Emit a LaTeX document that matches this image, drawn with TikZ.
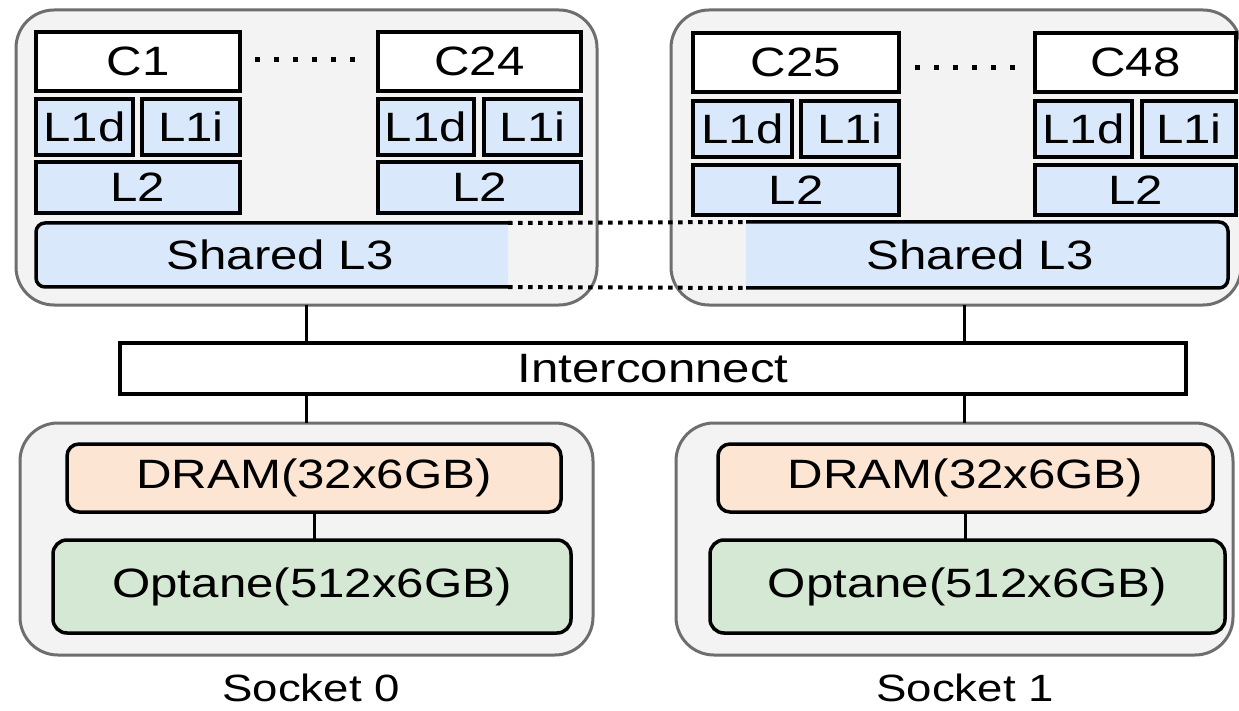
\documentclass[tikz,border=0pt]{standalone}
\usepackage{fontspec}
\setmainfont{Liberation Sans}
\usetikzlibrary{calc}
\definecolor{outerfill}{HTML}{F3F3F3}
\definecolor{outerdraw}{HTML}{6E6E6E}
\definecolor{cachefill}{HTML}{DAE8FC}
\definecolor{dramfill}{HTML}{FCE5D2}
\definecolor{optfill}{HTML}{D5E8D4}
\newcommand\wt[1]{\scalebox{1.2}[1]{#1}}
\begin{document}
\begin{tikzpicture}[x=1pt,y=-1pt,
  every node/.style={inner sep=0pt, outer sep=0pt, font=\fontsize{41}{46}\selectfont},
  socketbox/.style={draw=outerdraw, fill=outerfill, line width=3pt, rounded corners=38pt},
  corebox/.style={draw=black, fill=white, line width=3.5pt},
  cachebox/.style={draw=black, fill=cachefill, line width=3.5pt},
  drambox/.style={draw=black, fill=dramfill, line width=3.5pt, rounded corners=12pt},
  optbox/.style={draw=black, fill=optfill, line width=3.5pt, rounded corners=14pt},
  icbox/.style={draw=black, fill=white, line width=3.5pt},
  link/.style={draw=black, line width=3pt},
  dotline/.style={draw=black, line width=4pt, dash pattern=on 4.5pt off 5.5pt},
  ellip/.style={draw=black, line width=5pt, dash pattern=on 5pt off 14pt},
  socklabel/.style={font=\fontsize{38}{44}\selectfont}
]
\clip (0,0) rectangle (1239,711);
\fill[white] (0,0) rectangle (1239,711);

% socket containers (top)
\node[socketbox, minimum width=581pt, minimum height=295pt] (topL) at (306.5,157.5) {};
\node[socketbox, minimum width=570pt, minimum height=295pt] (topR) at (956,157.5) {};

% socket 0 cores
\node[corebox, minimum width=204pt, minimum height=59pt] (c1) at (138,61.5) {\wt{C1}};
\node[corebox, minimum width=203pt, minimum height=59pt] (c24) at (479.5,61.5) {\wt{C24}};
\node[cachebox, minimum width=97pt, minimum height=56pt] (l1da) at (84.5,127) {\wt{L1d}};
\node[cachebox, minimum width=98pt, minimum height=56pt] (l1ia) at (191,127) {\wt{L1i}};
\node[cachebox, minimum width=96pt, minimum height=56pt] (l1db) at (426,127) {\wt{L1d}};
\node[cachebox, minimum width=97pt, minimum height=56pt] (l1ib) at (532.5,127) {\wt{L1i}};
\node[cachebox, minimum width=204pt, minimum height=51pt] (l2a) at (138,187.5) {\wt{L2}};
\node[cachebox, minimum width=203pt, minimum height=51pt] (l2b) at (479.5,187.5) {\wt{L2}};
\draw[ellip] (255,60) -- (355,60);

% socket 1 cores
\node[corebox, minimum width=206pt, minimum height=59pt] (c25) at (796,62.5) {\wt{C25}};
\node[corebox, minimum width=201pt, minimum height=59pt] (c48) at (1135.5,62.5) {\wt{C48}};
\node[cachebox, minimum width=99pt, minimum height=56pt] (l1dc) at (742.5,129) {\wt{L1d}};
\node[cachebox, minimum width=98pt, minimum height=56pt] (l1ic) at (850,129) {\wt{L1i}};
\node[cachebox, minimum width=97pt, minimum height=56pt] (l1dd) at (1083.5,129) {\wt{L1d}};
\node[cachebox, minimum width=94pt, minimum height=56pt] (l1id) at (1189,129) {\wt{L1i}};
\node[cachebox, minimum width=206pt, minimum height=50pt] (l2c) at (796,190) {\wt{L2}};
\node[cachebox, minimum width=201pt, minimum height=50pt] (l2d) at (1135.5,190) {\wt{L2}};
\draw[ellip] (915,68) -- (1015,68);

% shared L3 left
\node[fill=cachefill, rounded corners=9pt, minimum width=472pt, minimum height=64pt] (l3a) at (272,255) {};
\fill[cachefill] (l3a.north) rectangle (l3a.south east);
\draw[line width=3.5pt, rounded corners=9pt] (l3a.north east) -- (l3a.north west) -- (l3a.south west) -- (l3a.south east);
\node (l3atext) at (280,255) {\wt{Shared L3}};

% shared L3 right
\node[fill=cachefill, rounded corners=9pt, minimum width=482pt, minimum height=66pt] (l3b) at (987,255) {};
\fill[cachefill] (l3b.north west) rectangle (l3b.south);
\draw[line width=3.5pt, rounded corners=9pt] (l3b.north west) -- (l3b.north east) -- (l3b.south east) -- (l3b.south west);
\node (l3btext) at (980,255) {\wt{Shared L3}};

% dotted bridge
\draw[dotline] (l3a.north east) -- (l3b.north west);
\draw[dotline] (l3a.south east) -- (l3b.south west);

% interconnect
\node[icbox, minimum width=1066pt, minimum height=51pt] (ic) at (653,368.5) {\wt{Interconnect}};

% bottom containers
\node[socketbox, minimum width=573pt, minimum height=232pt] (botL) at (306.5,539) {};
\node[socketbox, minimum width=557pt, minimum height=232pt] (botR) at (954.5,539) {};
\node[drambox, minimum width=494pt, minimum height=68pt] (dramL) at (314,478) {\wt{DRAM(32x6GB)}};
\node[optbox, minimum width=518pt, minimum height=93pt] (optL) at (312,586.5) {\wt{Optane(512x6GB)}};
\node[drambox, minimum width=495pt, minimum height=68pt] (dramR) at (965.5,478) {\wt{DRAM(32x6GB)}};
\node[optbox, minimum width=515pt, minimum height=93pt] (optR) at (967.5,586.5) {\wt{Optane(512x6GB)}};

% connectors
\coordinate (rx) at (964,0);
\draw[link] (topL.south) -- (topL.south |- ic.north);
\draw[link] (ic.south -| botL.north) -- (botL.north);
\draw[link] (topR.south -| rx) -- (ic.north -| rx);
\draw[link] (ic.south -| rx) -- (botR.north -| rx);
\draw[link] (dramL.south) -- (dramL.south |- optL.north);
\draw[link] (dramR.south) -- (dramR.south |- optR.north);

% labels
\node[socklabel] (s0) at (311,688) {\wt{Socket 0}};
\node[socklabel] (s1) at (965,688) {\wt{Socket 1}};
\end{tikzpicture}
\end{document}
